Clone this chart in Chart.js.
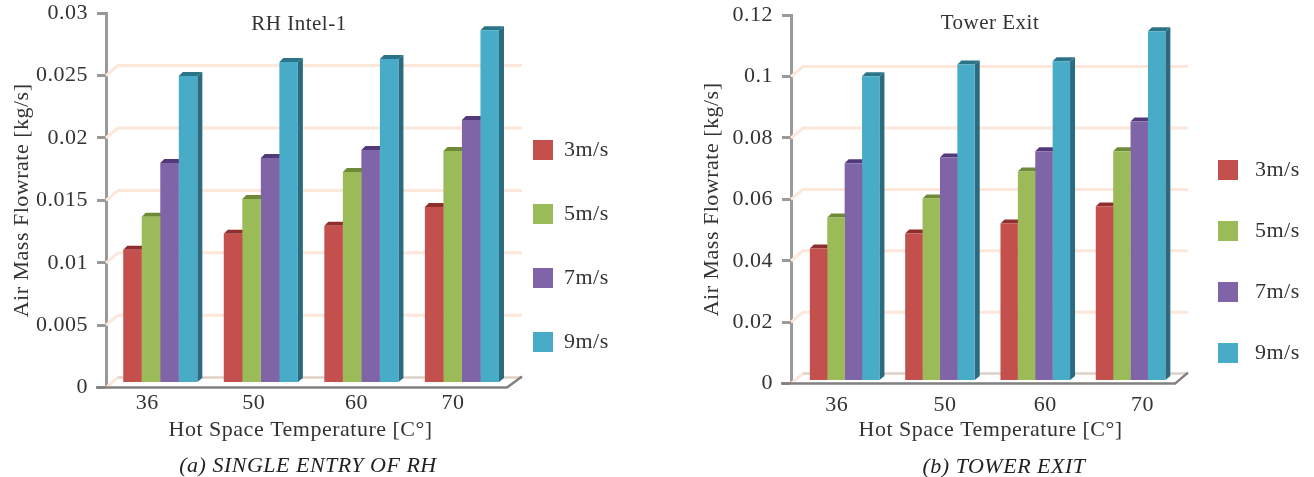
<!DOCTYPE html>
<html><head><meta charset="utf-8">
<style>
html,body{margin:0;padding:0;background:#fff;overflow:hidden;width:1314px;height:477px}
canvas{position:absolute;top:0}
#c1{left:0}
#c2{left:680px}
</style>
<script src="https://cdn.jsdelivr.net/npm/chart.js@4"></script>
</head><body>
<canvas id="c1" width="660" height="477"></canvas>
<canvas id="c2" width="634" height="477"></canvas>
<script>
const categories = ['36', '50', '60', '70'];
const seriesNames = ['3m/s', '5m/s', '7m/s', '9m/s'];
const frontColors = ['#c4504d', '#9bbb59', '#8064a8', '#48acc8'];
const sideColors = ['#8a2f2c', '#6b8535', '#4f3a72', '#2a6b80'];
const capColors = ['#8f2f2d', '#6f8a36', '#54397a', '#2b7488'];

const rhIntel3 = [0.01064, 0.01192, 0.01256, 0.01408];
const rhIntel5 = [0.01328, 0.01472, 0.01688, 0.01856];
const rhIntel7 = [0.0176, 0.018, 0.01864, 0.02104];
const rhIntel9 = [0.02456, 0.02568, 0.02592, 0.02824];

const tower3 = [0.0430, 0.0479, 0.0512, 0.0567];
const tower5 = [0.0531, 0.0593, 0.0681, 0.0747];
const tower7 = [0.0708, 0.0727, 0.0747, 0.0844];
const tower9 = [0.0991, 0.1030, 0.1040, 0.1138];

const yTitle = 'Air Mass Flowrate [kg/s]';
const xTitle = 'Hot Space Temperature [C\u00b0]';
const FONT = '"Liberation Serif", serif';
const INK = '#333333';
const SPACING = '0.5px';

function shiftTitle(scale, dx, dy) {
  if (scale._shifted) return;
  scale._shifted = true;
  const orig = scale.drawTitle;
  scale.drawTitle = function () {
    const c = this.ctx; c.save(); c.translate(dx, dy); orig.call(this); c.restore();
  };
}

const scene = {
  id: 'scene',
  beforeLayout(chart) { chart.ctx.letterSpacing = SPACING; },
  afterLayout(chart, _a, o) {
    const ca = chart.chartArea;
    const lg = chart.legend;
    const pad = lg.options.labels.padding;
    lg.left = o.legendX - pad;
    lg.top = o.legendY - pad - 10;
    lg.bottom = 477;
    chart.boxes.forEach(b => {
      const t = b.options && b.options.text;
      if (t === o.title) {
        b.left = o.titleCx - 150; b.right = o.titleCx + 150; b.top = o.titleY - 13;
      } else if (t === o.caption) {
        b.left = o.captionCx - 200; b.right = o.captionCx + 200; b.top = o.captionY - 12;
      }
    });
    const xs = chart.scales.x;
    xs.getLabelItems(ca).forEach((it, i) => {
      it.options.translation[0] += o.labelShift[i];
      it.options.translation[1] += o.labelDy;
    });
    shiftTitle(xs, o.xTitleDx, o.xTitleDy);
    shiftTitle(chart.scales.y, o.yTitleDx, 0);
  },
  beforeDraw(chart) { chart.ctx.letterSpacing = SPACING; },
  beforeDatasetsDraw(chart, _a, o) {
    const { ctx, scales: { y }, chartArea: ca } = chart;
    const dx = 12, dy = 10;
    ctx.save();
    ctx.lineWidth = 3;
    ctx.strokeStyle = '#fde7da';
    y.ticks.forEach(t => {
      if (t.value === y.max) return;
      const py = y.getPixelForValue(t.value);
      ctx.beginPath();
      ctx.moveTo(ca.left, py);
      ctx.lineTo(ca.left + dx, py - dy);
      ctx.lineTo(o.wallRight, py - dy);
      ctx.stroke();
    });
    const py0 = y.getPixelForValue(0);
    ctx.strokeStyle = '#d8d2cc'; ctx.lineWidth = 2;
    ctx.beginPath(); ctx.moveTo(ca.left + dx, py0 - dy); ctx.lineTo(o.wallRight, py0 - dy); ctx.stroke();
    ctx.strokeStyle = '#808080'; ctx.lineWidth = 2.5;
    ctx.beginPath();
    ctx.moveTo(ca.left - 10, py0);
    ctx.lineTo(o.floorEnd, py0);
    ctx.lineTo(o.wallRight, py0 - dy - 1);
    ctx.stroke();
    ctx.restore();

    ctx.save();
    ctx.translate(o.barDx, -o.baseLift);
    const sd = 5, up = 4;
    chart.data.datasets.forEach((ds, i) => {
      chart.getDatasetMeta(i).data.forEach(b => {
        const l = b.x - b.width / 2, r = b.x + b.width / 2;
        ctx.fillStyle = sideColors[i];
        ctx.beginPath();
        ctx.moveTo(r, b.y); ctx.lineTo(r + sd, b.y - up);
        ctx.lineTo(r + sd, b.base - up); ctx.lineTo(r, b.base);
        ctx.closePath(); ctx.fill();
        ctx.fillStyle = capColors[i];
        ctx.beginPath();
        ctx.moveTo(l, b.y); ctx.lineTo(l + 4, b.y - up);
        ctx.lineTo(r + sd, b.y - up); ctx.lineTo(r, b.y);
        ctx.closePath(); ctx.fill();
      });
    });
  },
  afterDatasetsDraw(chart) { chart.ctx.restore(); }
};

function build(id, series, yMax, yStep, o) {
  const ctx = document.getElementById(id).getContext('2d');
  return new Chart(ctx, {
    type: 'bar',
    data: {
      labels: categories,
      datasets: series.map((vals, i) => ({
        label: seriesNames[i],
        data: vals,
        backgroundColor: frontColors[i],
        borderWidth: 0,
        categoryPercentage: o.catPct,
        barPercentage: 1
      }))
    },
    options: {
      responsive: false,
      animation: false,
      layout: { padding: { top: o.top, right: o.padRight, left: 0, bottom: 0 } },
      scales: {
        x: {
          grid: { display: false },
          border: { display: false },
          ticks: { color: INK, font: { family: FONT, size: 22 }, padding: 3, maxRotation: 0 },
          title: { display: true, text: xTitle, color: INK, font: { family: FONT, size: 22 }, padding: { top: 0, bottom: 0 } },
          afterFit(s) { s.height = o.xHeight; }
        },
        y: {
          min: 0, max: yMax,
          ticks: {
            stepSize: yStep, color: INK, font: { family: FONT, size: 22 }, padding: 9,
            callback: v => String(+(+v).toFixed(3))
          },
          grid: { drawOnChartArea: false, drawTicks: true, tickLength: 9, tickColor: '#9a9a9a', tickWidth: 3 },
          border: { display: true, color: '#9a9a9a', width: 3 },
          title: { display: true, text: yTitle, color: INK, font: { family: FONT, size: 22 }, padding: 0 },
          afterFit(s) { s.width = o.yWidth; s.paddingTop = 0; s.paddingBottom = 0; }
        }
      },
      plugins: {
        legend: {
          position: 'right',
          align: 'start',
          labels: {
            boxWidth: 20, boxHeight: 20, padding: o.legendGap - 22, color: INK,
            font: { family: FONT, size: 22 },
            generateLabels(chart) {
              return Chart.defaults.plugins.legend.labels.generateLabels(chart)
                .map(l => Object.assign(l, { text: o.legendPrefix + l.text, lineWidth: 0 }));
            }
          }
        },
        title: {
          display: true, text: o.title, color: INK,
          font: { family: FONT, size: 21, weight: 'normal' },
          padding: { top: 0, bottom: -25 }
        },
        subtitle: {
          display: true, text: o.caption, position: 'bottom', color: '#222222',
          font: { family: FONT, size: 22, style: 'italic', weight: 'normal' },
          padding: 0
        },
        tooltip: { enabled: false },
        scene: o
      }
    },
    plugins: [scene]
  });
}

build('c1', [rhIntel3, rhIntel5, rhIntel7, rhIntel9], 0.03, 0.005, {
  top: 13, padRight: 24, yWidth: 106, xHeight: 63, catPct: 0.737,
  wallRight: 522, floorEnd: 507, barDx: 4, baseLift: 5,
  legendX: 533, legendY: 149, legendGap: 64, legendPrefix: '',
  title: 'RH Intel-1', titleCx: 299, titleY: 25,
  caption: '(a) SINGLE ENTRY OF RH', captionCx: 308, captionY: 465,
  labelShift: [-9, -3, -1, -5], labelDy: -9,
  xTitleDx: -6.5, xTitleDy: -7.6, yTitleDx: 9
});

build('c2', [tower3, tower5, tower7, tower9], 0.12, 0.02, {
  top: 15, padRight: 11, yWidth: 111, xHeight: 67, catPct: 0.73,
  wallRight: 508, floorEnd: 495, barDx: 6, baseLift: 3,
  legendX: 538, legendY: 169, legendGap: 61, legendPrefix: ' ',
  title: 'Tower Exit', titleCx: 310, titleY: 24,
  caption: '(b) TOWER EXIT', captionCx: 324, captionY: 466,
  labelShift: [-2, 11, 16, 18], labelDy: -3,
  xTitleDx: 9, xTitleDy: -7.6, yTitleDx: 19
});
</script>
</body></html>
